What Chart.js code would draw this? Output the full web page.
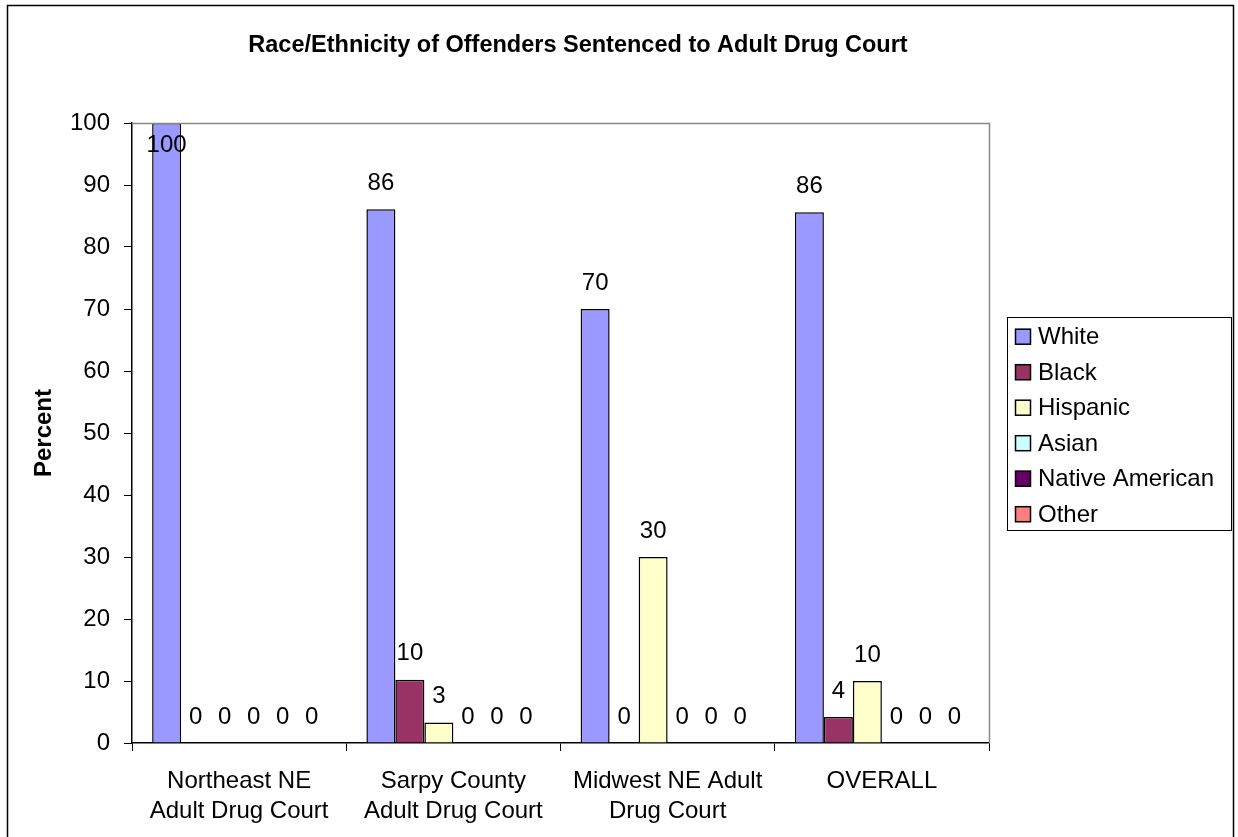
<!DOCTYPE html>
<html>
<head>
<meta charset="utf-8">
<script src="https://cdn.jsdelivr.net/npm/chart.js@4"></script>
<style>
  html, body { margin: 0; padding: 0; background: #fff; }
  #c { display: block; }
</style>
</head>
<body>
<canvas id="c" width="1238" height="837"></canvas>
<script>
const chartTitle = "Race/Ethnicity of Offenders Sentenced to Adult Drug Court";
const yAxisTitle = "Percent";
const categories = [
  ["Northeast NE", "Adult Drug Court"],
  ["Sarpy County", "Adult Drug Court"],
  ["Midwest NE Adult", "Drug Court"],
  "OVERALL"
];
const seriesNames = ["White", "Black", "Hispanic", "Asian", "Native American", "Other"];
const white    = [100, 86.1, 70, 85.6];
const black    = [0, 10.2, 0, 4.2];
const hispanic = [0, 3.3, 30, 10];
const asian    = [0, 0, 0, 0];
const nativeAm = [0, 0, 0, 0];
const other    = [0, 0, 0, 0];
const yTicks = [0, 10, 20, 30, 40, 50, 60, 70, 80, 90, 100];

const seriesValues = [white, black, hispanic, asian, nativeAm, other];
const seriesColors = ["#9999FF", "#993366", "#FFFFCC", "#CCFFFF", "#660066", "#FF8080"];

const FONT = '"Liberation Sans", Arial, Helvetica, sans-serif';
Chart.defaults.font.family = FONT;
Chart.defaults.color = '#000';

const decorPlugin = {
  id: 'decor',
  beforeDraw(chart) {
    const ctx = chart.ctx;
    ctx.save();
    ctx.fillStyle = '#fff';
    ctx.fillRect(0, 0, chart.width, chart.height);
    ctx.restore();
  },
  afterDraw(chart) {
    const ctx = chart.ctx;
    const a = chart.chartArea;
    ctx.save();
    // title
    ctx.fillStyle = '#000';
    ctx.font = 'bold 23.5px ' + FONT;
    ctx.textAlign = 'center';
    ctx.textBaseline = 'middle';
    ctx.fillText(chartTitle, 578, 46);
    // plot area top/right border
    ctx.strokeStyle = '#888';
    ctx.lineWidth = 1.5;
    ctx.beginPath();
    ctx.moveTo(a.left, a.top + 0.5);
    ctx.lineTo(a.right + 0.5, a.top + 0.5);
    ctx.lineTo(a.right + 0.5, a.bottom);
    ctx.stroke();
    // outer frame
    ctx.strokeStyle = '#000';
    ctx.lineWidth = 1.5;
    ctx.strokeRect(7.5, 5.5, 1226, 900);
    // legend
    const lx = 1007.5, ly = 317.5, lw = 224, lh = 213;
    ctx.lineWidth = 1;
    ctx.strokeStyle = '#000';
    ctx.strokeRect(lx, ly, lw, lh);
    ctx.font = '24px ' + FONT;
    ctx.textBaseline = 'middle';
    ctx.textAlign = 'left';
    chart.data.datasets.forEach((ds, i) => {
      const cy = 336.7 + i * 35.5;
      ctx.fillStyle = ds.backgroundColor;
      ctx.fillRect(1015, cy - 8, 16, 16);
      ctx.strokeStyle = '#000';
      ctx.lineWidth = 1.5;
      ctx.strokeRect(1015.5, cy - 7.5, 15, 15);
      ctx.fillStyle = '#000';
      ctx.fillText(ds.label, 1038, cy + 1);
    });
    ctx.restore();
  },
  afterDatasetsDraw(chart) {
    const ctx = chart.ctx;
    const a = chart.chartArea;
    ctx.save();
    ctx.font = '24px ' + FONT;
    ctx.fillStyle = '#000';
    ctx.textAlign = 'center';
    ctx.textBaseline = 'middle';
    chart.data.datasets.forEach((ds, di) => {
      const meta = chart.getDatasetMeta(di);
      meta.data.forEach((el, i) => {
        const v = ds.data[i];
        let y = el.y - 26;
        if (y < a.top + 10) y = el.y + 22;
        ctx.fillText(String(Math.round(v)), el.x, y);
      });
    });
    ctx.restore();
  }
};

new Chart(document.getElementById('c'), {
  type: 'bar',
  data: {
    labels: categories,
    datasets: seriesNames.map((name, i) => ({
      label: name,
      data: seriesValues[i],
      backgroundColor: seriesColors[i],
      borderColor: '#000',
      borderWidth: 1.5,
      categoryPercentage: 0.812,
      barPercentage: 1.0
    }))
  },
  options: {
    responsive: false,
    animation: false,
    devicePixelRatio: 1,
    layout: { padding: { left: 0, right: 249, top: 123, bottom: 0 } },
    plugins: {
      legend: { display: false },
      tooltip: { enabled: false },
      title: { display: false }
    },
    scales: {
      x: {
        offset: true,
        grid: { offset: true, drawOnChartArea: false, drawTicks: true, tickLength: 8, color: '#000' },
        border: { display: true, color: '#000', width: 1.5 },
        ticks: { font: { size: 24, family: FONT, lineHeight: 1.25 }, color: '#000', padding: 15, maxRotation: 0, autoSkip: false },
        afterFit: s => { s.height = 94; }
      },
      y: {
        min: 0,
        max: 100,
        afterBuildTicks: s => { s.ticks = yTicks.map(v => ({ value: v })); },
        grid: { drawOnChartArea: false, drawTicks: true, tickLength: 8, color: '#000' },
        border: { display: true, color: '#000', width: 1.5 },
        ticks: { font: { size: 24, family: FONT }, color: '#000', padding: 14 },
        title: {
          display: true,
          text: yAxisTitle,
          color: '#000',
          font: { size: 24, weight: 'bold', family: FONT, lineHeight: 1.2 },
          padding: { top: 30, bottom: 0 }
        },
        afterFit: s => { s.width = 132; }
      }
    }
  },
  plugins: [decorPlugin]
});
</script>
</body>
</html>
